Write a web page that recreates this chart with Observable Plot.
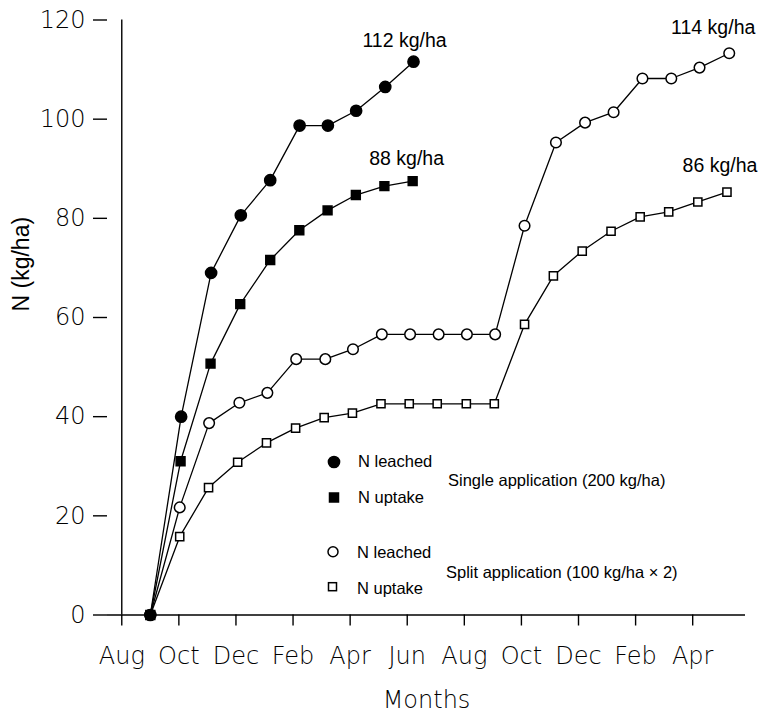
<!DOCTYPE html>
<html>
<head>
<meta charset="utf-8">
<script src="https://cdn.jsdelivr.net/npm/d3@7"></script>
<script src="https://cdn.jsdelivr.net/npm/@observablehq/plot@0.6"></script>
<style>
  html, body { margin: 0; padding: 0; background: white; }
  #wrap { position: relative; width: 764px; height: 722px; }
  #legend { position: absolute; left: 0; top: 0; pointer-events: none; }
</style>
</head>
<body>
<div id="wrap"></div>
<script>
// ---- Data (months counted from August of year 1 = 0) ----
const tickMonths = [0, 2, 4, 6, 8, 10, 12, 14, 16, 18, 20];
const tickLabels = ["Aug", "Oct", "Dec", "Feb", "Apr", "Jun", "Aug", "Oct", "Dec", "Feb", "Apr"];
const yTicks = [0, 20, 40, 60, 80, 100, 120];

const singleLeachedMonths = [1, 2.08, 3.13, 4.17, 5.2, 6.23, 7.22, 8.21, 9.23, 10.22];
const singleLeached       = [0, 40, 69, 80.6, 87.7, 98.7, 98.7, 101.7, 106.5, 111.6];

const singleUptakeMonths  = [1, 2.06, 3.11, 4.15, 5.2, 6.22, 7.21, 8.2, 9.2, 10.19];
const singleUptake        = [0, 31, 50.7, 62.7, 71.6, 77.6, 81.6, 84.7, 86.5, 87.5];

const splitLeachedMonths  = [1, 2.03, 3.06, 4.12, 5.1, 6.11, 7.13, 8.1, 9.11, 10.1, 11.1, 12.09, 13.08, 14.11, 15.21, 16.23, 17.23, 18.24, 19.25, 20.24, 21.28];
const splitLeached        = [0, 21.7, 38.7, 42.8, 44.8, 51.6, 51.6, 53.6, 56.6, 56.6, 56.6, 56.6, 56.6, 78.5, 95.3, 99.3, 101.4, 108.2, 108.2, 110.4, 113.3];

const splitUptakeMonths   = [1, 2.03, 3.04, 4.06, 5.07, 6.09, 7.09, 8.08, 9.08, 10.07, 11.05, 12.07, 13.05, 14.11, 15.12, 16.13, 17.14, 18.16, 19.16, 20.18, 21.2];
const splitUptake         = [0, 15.8, 25.7, 30.8, 34.7, 37.7, 39.8, 40.7, 42.6, 42.6, 42.6, 42.6, 42.6, 58.6, 68.4, 73.4, 77.4, 80.3, 81.3, 83.3, 85.3];

const totals = [86, 114, 88, 112]; // split uptake, split leached, single uptake, single leached

// ---- Series configuration (styles) ----
const series = [
  {x: splitUptakeMonths,   y: splitUptake,   symbol: "square", fill: "white", r: 4.6, total: totals[0], dx: -7,  dy: -26},
  {x: splitLeachedMonths,  y: splitLeached,  symbol: "circle", fill: "white", r: 5.3, total: totals[1], dx: -16, dy: -25},
  {x: singleUptakeMonths,  y: singleUptake,  symbol: "square", fill: "black", r: 5.0, total: totals[2], dx: -6,  dy: -22},
  {x: singleLeachedMonths, y: singleLeached, symbol: "circle", fill: "black", r: 5.6, total: totals[3], dx: -9,  dy: -21}
];

const tables = series.map(s => s.x.map((m, i) => ({m, v: s.y[i]})));

const tickFont = "DejaVu Sans, Verdana, sans-serif";
const textFont = "Liberation Sans, Arial, Helvetica, sans-serif";

const marks = [
  Plot.ruleY([0], {stroke: "black", strokeWidth: 1.6}),
  Plot.ruleX([0], {y1: 0, y2: 120, stroke: "black", strokeWidth: 1.4}),
  Plot.axisX({
    ticks: tickMonths,
    tickFormat: d => tickLabels[tickMonths.indexOf(d)],
    tickSize: 11, tickPadding: 21, strokeWidth: 1.4,
    fontSize: 24, fontFamily: tickFont, fontWeight: 200, fill: "black", label: null
  }),
  Plot.axisY({
    ticks: yTicks, tickSize: 14, tickPadding: 8, strokeWidth: 1.4,
    fontSize: 24, fontFamily: tickFont, fontWeight: 200, fill: "black", label: null
  }),
  Plot.text(["Months"], {frameAnchor: "bottom", dy: 93, fontSize: 24, fontFamily: tickFont, fontWeight: 200, fill: "black"}),
  Plot.text(["N (kg/ha)"], {frameAnchor: "left", dx: -86, dy: -6, rotate: -90, fontSize: 23, fontFamily: textFont, fontWeight: 400, fill: "black"})
];

series.forEach((s, k) => {
  const t = tables[k];
  marks.push(Plot.line(t, {x: "m", y: "v", stroke: "black", strokeWidth: 1.3}));
});
series.forEach((s, k) => {
  const t = tables[k];
  marks.push(Plot.dot(t, {x: "m", y: "v", symbol: s.symbol, r: s.r, fill: s.fill, stroke: "black", strokeWidth: 1.5}));
});
series.forEach((s, k) => {
  const t = tables[k];
  marks.push(Plot.text([t[t.length - 1]], {
    x: "m", y: "v", text: () => `${s.total} kg/ha`,
    dx: s.dx, dy: s.dy, fontSize: 19.5, fontFamily: textFont, fontWeight: 400, fill: "black"
  }));
});

const chart = Plot.plot({
  width: 764, height: 722,
  marginTop: 19.5, marginBottom: 107.5, marginLeft: 107, marginRight: 19,
  x: {domain: [-0.5, 21.85]},
  y: {domain: [0, 120]},
  style: {background: "white", color: "black"},
  marks
});
document.getElementById("wrap").appendChild(chart);

// ---- Legend overlay ----
const ns = "http://www.w3.org/2000/svg";
const leg = document.createElementNS(ns, "svg");
leg.setAttribute("id", "legend");
leg.setAttribute("width", 764);
leg.setAttribute("height", 722);
const legendItems = [
  {sym: "circle", fill: "black", cx: 334, cy: 462, label: "N leached", lx: 358, ly: 461},
  {sym: "square", fill: "black", cx: 334, cy: 497.5, label: "N uptake", lx: 358, ly: 497},
  {sym: "circle", fill: "white", cx: 333, cy: 551.7, label: "N leached", lx: 357, ly: 552},
  {sym: "square", fill: "white", cx: 332.5, cy: 586.7, label: "N uptake", lx: 357, ly: 588}
];
const groupLabels = [
  {text: "Single application (200 kg/ha)", x: 448, y: 480},
  {text: "Split application (100 kg/ha \u00d7 2)", x: 446, y: 572}
];
legendItems.forEach(it => {
  let el;
  if (it.sym === "circle") {
    el = document.createElementNS(ns, "circle");
    el.setAttribute("cx", it.cx); el.setAttribute("cy", it.cy);
    el.setAttribute("r", it.fill === "black" ? 5.6 : 5.0);
  } else {
    el = document.createElementNS(ns, "rect");
    const s = it.fill === "black" ? 9 : 8;
    el.setAttribute("x", it.cx - s / 2); el.setAttribute("y", it.cy - s / 2);
    el.setAttribute("width", s); el.setAttribute("height", s);
  }
  el.setAttribute("fill", it.fill);
  el.setAttribute("stroke", "black");
  el.setAttribute("stroke-width", 1.5);
  leg.appendChild(el);
  const tx = document.createElementNS(ns, "text");
  tx.setAttribute("x", it.lx); tx.setAttribute("y", it.ly);
  tx.setAttribute("dominant-baseline", "central");
  tx.setAttribute("font-family", textFont);
  tx.setAttribute("font-size", 16.5);
  tx.textContent = it.label;
  leg.appendChild(tx);
});
groupLabels.forEach(g => {
  const tx = document.createElementNS(ns, "text");
  tx.setAttribute("x", g.x); tx.setAttribute("y", g.y);
  tx.setAttribute("dominant-baseline", "central");
  tx.setAttribute("font-family", textFont);
  tx.setAttribute("font-size", 16.5);
  tx.textContent = g.text;
  leg.appendChild(tx);
});
document.getElementById("wrap").appendChild(leg);
</script>
</body>
</html>
